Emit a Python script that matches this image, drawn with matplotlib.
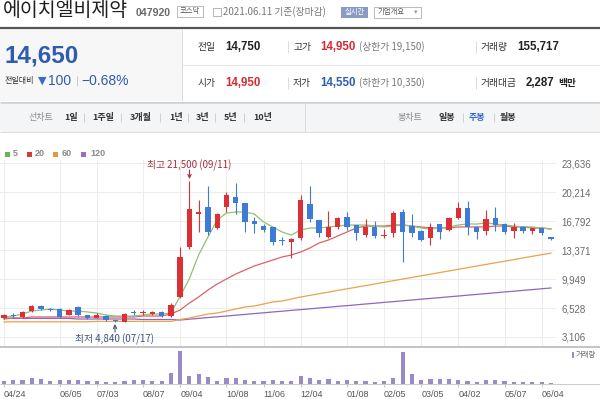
import matplotlib
matplotlib.use("Agg")
import matplotlib.pyplot as plt
from matplotlib.patches import Rectangle

plt.rcParams['font.family'] = ['Noto Sans CJK KR', 'DejaVu Sans']

# ---------------- data ----------------
opens = [5350, 5600, 5450, 6150, 6750, 6350, 6450, 5700, 6650, 5700,
         5350, 5600, 5050, 4900, 5950, 5900, 5850, 6050, 5600, 7800,
         13750, 17600, 18450, 15950, 18450, 19650, 18900, 16800, 16200, 16100,
         14450, 14300, 14800, 18800, 16900, 14900, 16100, 17250, 16300, 15150,
         16100, 15000, 15400, 17850, 16200, 15600, 14800, 16450, 15750, 17150,
         18350, 16100, 15600, 17150, 16450, 15600, 16100, 15600, 15950, 14950]
highs = [5800, 5900, 6150, 6900, 6900, 6500, 6550, 6400, 6750, 5750,
         5900, 5650, 5100, 5950, 6300, 6300, 6150, 6200, 7100, 13700,
         21500, 19250, 20950, 17700, 20200, 21300, 18950, 17250, 16400, 16100,
         14900, 14800, 19850, 20900, 16950, 18000, 17300, 17800, 16350, 17050,
         16850, 15800, 18000, 18200, 17600, 15750, 16550, 16450, 17250, 19000,
         19200, 16200, 18050, 18400, 16500, 16500, 16200, 16000, 16000, 14950]
lows = [5250, 5400, 5400, 6100, 6300, 6150, 5350, 5650, 5600, 5250,
        5300, 5050, 4840, 4850, 5700, 5750, 5700, 5500, 5500, 7700,
        13500, 15500, 15150, 15800, 17850, 17650, 15500, 15400, 15550, 13950,
        13950, 12450, 14550, 16700, 14900, 14750, 15850, 15750, 14550, 14900,
        14800, 14800, 14900, 11900, 14950, 14450, 13950, 14650, 15600, 17000,
        15200, 14650, 15150, 15600, 15300, 14800, 15400, 15300, 15200, 14550]
closes = [5700, 5550, 6050, 6750, 6400, 6250, 5450, 6300, 5700, 5350,
          5700, 5100, 4950, 5800, 5900, 5950, 6050, 5600, 6900, 12550,
          18200, 17800, 15500, 17600, 19850, 18900, 16700, 16450, 15750, 14300,
          14400, 14650, 19250, 17050, 15400, 16100, 17150, 16100, 15400, 16100,
          15050, 15100, 17750, 15500, 15400, 14550, 16100, 15500, 17150, 18350,
          16100, 15500, 17050, 16300, 15500, 16100, 15600, 15950, 15350, 14650]
volumes = [500, 750, 750, 1250, 1000, 500, 750, 750, 750, 500,
           500, 380, 330, 580, 750, 750, 580, 650, 2500, 8000,
           1750, 2250, 1500, 500, 1250, 1250, 750, 500, 500, 750,
           500, 500, 1750, 1250, 750, 1000, 500, 750, 500, 500,
           380, 500, 1250, 7750, 2250, 750, 1000, 1000, 1000, 750,
           500, 380, 750, 750, 500, 380, 250, 250, 250, 130]
ma5 = [5470, 5580, 5820, 6170, 6290, 6410, 6290, 6170, 6170, 6060,
       5940, 5700, 5580, 5580, 5580, 5700, 5820, 5820, 5940, 7900,
       10000, 12800, 14900, 16900, 17740, 17860, 17860, 17620, 16680, 16090,
       15500, 15140, 15730, 15970, 15970, 16090, 16200, 16320, 16320, 16320,
       16200, 16090, 16200, 16320, 16200, 15970, 15850, 15970, 16090, 16320,
       16440, 16440, 16560, 16440, 16320, 16200, 16090, 16090, 15970, 15850]
ma20 = [5230, 5350, 5350, 5470, 5470, 5470, 5470, 5470, 5470, 5470,
        5470, 5470, 5470, 5470, 5470, 5580, 5580, 5580, 5820, 6290,
        7120, 7830, 8650, 9360, 9950, 10540, 11010, 11480, 11840, 12190,
        12550, 12780, 13140, 13610, 14200, 14550, 15020, 15500, 15970, 16200,
        16200, 16200, 16320, 16320, 16200, 16090, 15970, 15970, 15970, 16090,
        16090, 16090, 16090, 16200, 16200, 16090, 16090, 15970, 15970, 15850]
ma60 = [4880, 4900, 4900, 4900, 4900, 4900, 4900, 4900, 4900, 4900,
        4950, 4950, 4950, 4950, 4950, 4950, 4950, 4950, 4950, 5170,
        5350, 5580, 5820, 5940, 6170, 6410, 6650, 6760, 7000, 7240,
        7350, 7590, 7830, 8020, 8210, 8400, 8600, 8790, 8980, 9170,
        9360, 9560, 9750, 9940, 10130, 10320, 10520, 10710, 10900, 11090,
        11280, 11480, 11670, 11860, 12050, 12240, 12440, 12630, 12820, 13010]
ma120 = [5350, 5300, 5300, 5300, 5300, 5300, 5300, 5300, 5230, 5230,
         5230, 5230, 5230, 5230, 5230, 5170, 5170, 5170, 5170, 5110,
         5210, 5300, 5400, 5490, 5580, 5680, 5770, 5870, 5960, 6060,
         6150, 6250, 6340, 6430, 6530, 6620, 6720, 6810, 6900, 7000,
         7090, 7190, 7280, 7380, 7470, 7570, 7660, 7750, 7850, 7940,
         8040, 8130, 8230, 8320, 8420, 8510, 8610, 8700, 8800, 8890]
tick_pos = [1, 7, 11, 16, 20, 25, 29, 33, 38, 42, 46, 50, 55, 59]
tick_labels = ["04/24", "06/05", "07/03", "08/07", "09/04", "10/08", "11/06",
               "12/04", "01/08", "02/05", "03/05", "04/02", "05/07", "06/04"]
price_ticks = [3106, 6528, 9949, 13371, 16792, 20214, 23636]

# ---------------- figure ----------------
W, H = 600, 399
fig = plt.figure(figsize=(6, 3.99), dpi=100)


def ax_px(x0, y0, x1, y1, z=1):
    a = fig.add_axes([x0 / W, 1 - y1 / H, (x1 - x0) / W, (y1 - y0) / H])
    a.set_zorder(z)
    return a


bg = ax_px(0, 0, 600, 399, z=0)
bg.set_xlim(0, 600); bg.set_ylim(399, 0); bg.axis('off')

LIB = ['Liberation Sans', 'DejaVu Sans']
KR = ['Noto Sans CJK KR', 'DejaVu Sans']


def T(a, x, y, s, size, color, weight='normal', ha='left', family=None):
    a.text(x, y, s, fontsize=size, color=color, fontweight=weight, ha=ha,
           va='center', family=family or KR)


def hl(a, y, x0, x1, color, lw=1.0):
    a.plot([x0, x1], [y, y], color=color, lw=lw * 0.72, solid_capstyle='butt')


def vl(a, x, y0, y1, color, lw=1.0):
    a.plot([x, x], [y0, y1], color=color, lw=lw * 0.72, solid_capstyle='butt')


# ---- header ----
T(bg, 3, 11, "에이치엘비제약", 14, '#1e1e1e')
T(bg, 136, 12.5, "047920", 7.6, '#6a6a6a', 'bold', family=LIB)
bg.add_patch(Rectangle((177, 6), 26, 11, fc='white', ec='#b0b0b0', lw=0.6))
T(bg, 190, 11.5, "코스닥", 5.3, '#555', ha='center')
bg.add_patch(Rectangle((212.5, 7.5), 8, 8, fc='none', ec='#aaa', lw=0.6))
T(bg, 223, 12, "2021.06.11 기준(장마감)", 7, '#777')
bg.add_patch(Rectangle((341, 6.5), 27, 11, fc='#8a9bc4', ec='none'))
T(bg, 354.5, 12, "실시간", 5.3, 'white', ha='center')
bg.add_patch(Rectangle((374, 6.5), 47, 11, fc='white', ec='#b0b0b0', lw=0.6))
T(bg, 378, 12, "기업개요", 5.3, '#555')
T(bg, 414, 12, "▾", 5, '#999', family=['DejaVu Sans'])
hl(bg, 27.5, 0, 600, '#555555', 2.2)

# ---- quote panel ----
bg.add_patch(Rectangle((0, 29), 181.5, 72, fc='#f7f7f7', ec='none'))
vl(bg, 181.5, 29, 101, '#dddddd')
hl(bg, 65, 182, 600, '#e6e6e6')
hl(bg, 101.5, 0, 600, '#cfcfcf')
T(bg, 4, 56, "14,650", 17.5, '#2e5cb0', 'bold', family=LIB)
T(bg, 5, 81, "전일대비", 5.8, '#333')
T(bg, 38, 81, "▼", 8, '#3b6cc0', family=['DejaVu Sans'])
T(bg, 48, 81, "100", 10, '#2e5cb0', family=LIB)
vl(bg, 77, 76, 86, '#cccccc')
T(bg, 81, 81, "−0.68%", 10, '#2e5cb0', family=LIB)

for yy, lab1, v1, c1, lab2, v2, c2, p2, lab3, v3 in [
        (47, "전일", "14,750", '#222', "고가", "14,950", '#d62a30', "(상한가 19,150)", "거래량", "155,717"),
        (83, "시가", "14,950", '#d62a30', "저가", "14,550", '#2e5cb0', "(하한가 10,350)", "거래대금", "2,287")]:
    T(bg, 198, yy, lab1, 7, '#333')
    T(bg, 225, yy, v1, 8.3, c1, 'bold', family=LIB)
    vl(bg, 288, yy - 6, yy + 6, '#dddddd')
    T(bg, 293, yy, lab2, 7, '#333')
    T(bg, 320, yy, v2, 8.3, c2, 'bold', family=LIB)
    T(bg, 359, yy, p2, 7, '#777')
    vl(bg, 476, yy - 6, yy + 6, '#dddddd')
    T(bg, 481, yy, lab3, 7, '#333')
    xv = 517 if lab3 == "거래량" else 526
    T(bg, xv, yy, v3, 8.3, '#222', 'bold', family=LIB)
T(bg, 558, 83, "백만", 7, '#222', 'bold')

# ---- toolbar ----
bg.add_patch(Rectangle((0, 103), 600, 29, fc='#f4f5f7', ec='none'))
hl(bg, 103, 0, 600, '#d8d8d8')
hl(bg, 132, 0, 600, '#dcdcdc')
vl(bg, 305, 103, 132, '#dcdcdc')
T(bg, 29, 117.5, "선차트", 6.5, '#8a8a8a')
items = [(64, "1일"), (92, "1주일"), (130, "3개월"), (169, "1년"),
         (196, "3년"), (224, "5년"), (253, "10년")]
for x, s in items:
    T(bg, x, 117.5, s, 6.5, '#333', 'bold')
for x in [84, 121, 160, 188, 215, 244]:
    vl(bg, x, 113, 122, '#d0d0d0')
T(bg, 398, 117.5, "봉차트", 6.5, '#8a8a8a')
T(bg, 439, 117.5, "일봉", 6.5, '#333', 'bold')
T(bg, 469, 117.5, "주봉", 6.5, '#3366cc', 'bold')
T(bg, 500, 117.5, "월봉", 6.5, '#333', 'bold')
for x in [463, 494]:
    vl(bg, x, 113, 122, '#d0d0d0')

# ---- legend ----
leg = [(5, 13, "5", '#6fb04f'), (27, 35, "20", '#d23c3c'),
       (53, 62, "60", '#e8963a'), (81, 90, "120", '#9a6cc4')]
for xs, xt, s, c in leg:
    bg.add_patch(Rectangle((xs, 151.5), 5, 5, fc=c, ec='none'))
    T(bg, xt, 154, s, 6.5, '#8a8a8a', 'bold', family=LIB)

# bottom separators
hl(bg, 346.5, 0, 600, '#c4c4c4', 2.0)
hl(bg, 383.7, 0, 600, '#cccccc', 1.0)

# ---------------- price chart ----------------
X0, X1 = 0, 556
step = 9.27
first = 4.0
xlo = 1 - (first - X0) / step
xhi = 1 + (X1 - first) / step

axp = ax_px(X0, 160, X1, 346, z=2)
axp.patch.set_alpha(0)
axp.set_xlim(xlo, xhi)
axp.set_ylim(2044, 23992)
for sp in axp.spines.values():
    sp.set_visible(False)
axp.set_xticks(tick_pos)
axp.set_xticklabels([])
axp.tick_params(axis='x', length=0)
axp.yaxis.tick_right()
axp.set_yticks(price_ticks)
axp.set_yticklabels([f"{v:,}" for v in price_ticks])
axp.tick_params(axis='y', length=0, pad=4, labelsize=7, labelcolor='#6a6a6a')
for lbl in axp.get_yticklabels():
    lbl.set_family(LIB)
axp.grid(True, color='#ececec', lw=0.7)
axp.set_axisbelow(True)

xs = list(range(1, len(opens) + 1))
RED, BLUE = '#dd2f36', '#3d7bd6'
for x, o, h, l, c in zip(xs, opens, highs, lows, closes):
    col = RED if c >= o else BLUE
    axp.vlines(x, l, h, color=col, lw=0.8, zorder=3)
    bot = min(o, c)
    ht = max(abs(c - o), 110)
    axp.bar(x, ht, bottom=bot, width=0.58, color=col, zorder=4, lw=0)

axp.plot(xs, ma120, color='#8e67bd', lw=0.9, zorder=2)
axp.plot(xs, ma60, color='#eba24a', lw=0.9, zorder=2)
axp.plot(xs, ma20, color='#d9636a', lw=0.9, zorder=2)
axp.plot(xs, ma5, color='#8fc272', lw=0.9, zorder=2)

# ---------------- volume ----------------
axv = ax_px(X0, 349, X1, 383.5, z=2)
axv.patch.set_alpha(0)
axv.set_xlim(xlo, xhi)
axv.set_ylim(0, 8500)
for sp in axv.spines.values():
    sp.set_visible(False)
axv.set_yticks([])
axv.bar(xs, volumes, width=0.45, color='#9a8bc8', lw=0)
axv.set_xticks(tick_pos)
axv.set_xticklabels(tick_labels)
axv.tick_params(axis='x', length=2.5, color='#c8c8c8', pad=2.5,
                labelsize=6.5, labelcolor='#555')
for lbl in axv.get_xticklabels():
    lbl.set_ha('left')
    lbl.set_family(LIB)

# ---------------- overlay annotations ----------------
top = ax_px(0, 0, 600, 399, z=5)
top.set_xlim(0, 600); top.set_ylim(399, 0); top.axis('off')
T(top, 147, 165, "최고 21,500 (09/11)", 7, '#a8303f')
top.annotate('', xy=(189.5, 179), xytext=(189.5, 170),
             arrowprops=dict(arrowstyle='->', color='#a8303f', lw=0.8,
                             shrinkA=0, shrinkB=0, mutation_scale=6))
T(top, 75, 339, "최저 4,840 (07/17)", 7, '#3e5478')
top.annotate('', xy=(115, 324), xytext=(115, 332),
             arrowprops=dict(arrowstyle='->', color='#3e5478', lw=0.8,
                             shrinkA=0, shrinkB=0, mutation_scale=6))
top.add_patch(Rectangle((572, 352), 1.8, 6, fc='#9a8bc8', ec='none'))
T(top, 576, 355, "거래량", 5.3, '#666')

fig.savefig("out.png", dpi=100)
